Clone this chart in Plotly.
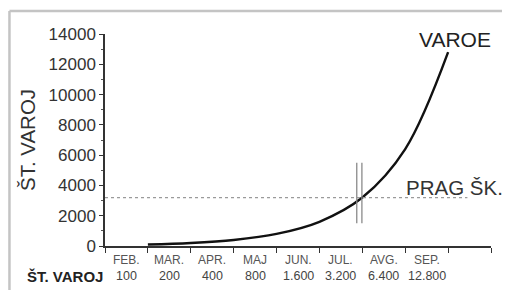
import plotly.graph_objects as go

months = ["FEB.", "MAR.", "APR.", "MAJ", "JUN.", "JUL.", "AVG.", "SEP."]
count_labels = ["100", "200", "400", "800", "1.600", "3.200", "6.400", "12.800"]
counts = [100, 200, 400, 800, 1600, 3200, 6400, 12800]
threshold = 3200
y_ticks = [0, 2000, 4000, 6000, 8000, 10000, 12000, 14000]

FONT = "Liberation Sans, Arial, sans-serif"

# curve points at the end of each month interval
x_pts = [i + 1 for i in range(len(months))]

fig = go.Figure()
fig.add_trace(go.Scatter(
    x=x_pts, y=counts, mode="lines",
    line=dict(color="#111111", width=2.4, shape="spline", smoothing=1.0),
    hoverinfo="skip", showlegend=False,
))

shapes = []
# threshold dotted line
shapes.append(dict(type="line", xref="x", yref="y", x0=0, x1=8.45,
                   y0=threshold, y1=threshold,
                   line=dict(color="#9a9a9a", width=1.2, dash="dot")))
# vertical double marker near July
for xv in (5.87, 5.99):
    shapes.append(dict(type="line", xref="x", yref="y", x0=xv, x1=xv,
                       y0=1500, y1=5500,
                       line=dict(color="#8a8a8a", width=1.3)))
# frame (top & left)
shapes.append(dict(type="line", xref="paper", yref="paper",
                   x0=-0.2475, x1=1.06, y0=1.108, y1=1.108,
                   line=dict(color="#c4c4c4", width=2.5)))
shapes.append(dict(type="line", xref="paper", yref="paper",
                   x0=-0.2475, x1=-0.2475, y0=1.108, y1=-0.22,
                   line=dict(color="#c4c4c4", width=2.5)))

annotations = []
for i, (m, c) in enumerate(zip(months, count_labels)):
    annotations.append(dict(x=i + 0.5, y=-0.068, xref="x", yref="paper",
                            text=m, showarrow=False, xanchor="center", yanchor="middle",
                            font=dict(family=FONT, size=12, color="#555555")))
    annotations.append(dict(x=i + 0.5, y=-0.142, xref="x", yref="paper",
                            text=c, showarrow=False, xanchor="center", yanchor="middle",
                            font=dict(family=FONT, size=12.5, color="#444444")))
annotations.append(dict(x=0.0, y=-0.142, xref="paper", yref="paper",
                        text="<b>ŠT. VAROJ</b>", showarrow=False, xanchor="right", yanchor="middle",
                        font=dict(family=FONT, size=15, color="#222222")))
annotations.append(dict(x=-0.202, y=0.5, xref="paper", yref="paper",
                        text="ŠT. VAROJ", textangle=-90, showarrow=False,
                        xanchor="center", yanchor="middle",
                        font=dict(family=FONT, size=20.5, color="#333333")))
annotations.append(dict(x=0.907, y=0.972, xref="paper", yref="paper",
                        text="VAROE", showarrow=False, xanchor="center", yanchor="middle",
                        font=dict(family=FONT, size=21, color="#222222")))
annotations.append(dict(x=1.036, y=0.274, xref="paper", yref="paper",
                        text="PRAG ŠK.", showarrow=False, xanchor="right", yanchor="middle",
                        font=dict(family=FONT, size=20.5, color="#333333")))

# the page body adds an 8px offset, so the figure is 8px smaller on each axis
fig.update_layout(
    width=502, height=282,
    margin=dict(l=97, r=19, t=26, b=44),
    paper_bgcolor="white", plot_bgcolor="white",
    shapes=shapes, annotations=annotations,
    font=dict(family=FONT),
    xaxis=dict(range=[0, 9], tickvals=list(range(10)), showticklabels=False,
               ticks="outside", ticklen=5, tickcolor="#333333", tickwidth=1.3,
               showgrid=False, zeroline=False, showline=True,
               linecolor="#333333", linewidth=1.5, fixedrange=True),
    yaxis=dict(range=[0, 14000], tickvals=y_ticks, ticktext=[str(v) for v in y_ticks],
               ticks="outside", ticklen=4, tickcolor="#333333", tickwidth=1.2,
               minor=dict(dtick=1000, ticks="outside", ticklen=2, tickcolor="#555555"),
               tickfont=dict(family=FONT, size=17, color="#333333"),
               showgrid=False, zeroline=False, showline=True,
               linecolor="#333333", linewidth=1.5, fixedrange=True),
)

fig.write_html("out.html")
